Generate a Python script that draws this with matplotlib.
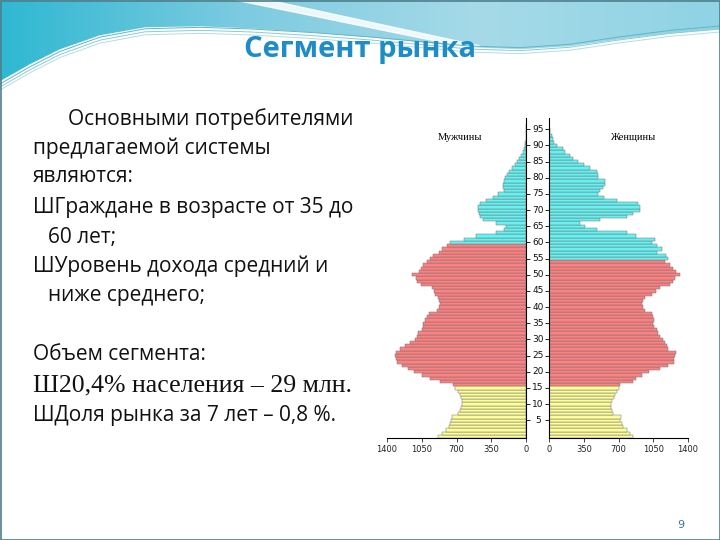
import numpy as np
import matplotlib
matplotlib.use("Agg")
import matplotlib.pyplot as plt
from matplotlib.transforms import blended_transform_factory
from matplotlib.colors import LinearSegmentedColormap

# population by single year of age, thousands (0 .. 96)
ages = list(range(0, 97))
male = [886, 846, 806, 775, 765, 755, 745, 685, 665, 655,
        645, 645, 655, 665, 685, 715, 735, 866, 967, 1047,
        1128, 1188, 1249, 1299, 1309, 1319, 1309, 1269, 1218, 1168,
        1118, 1100, 1088, 1050, 1040, 1037, 1020, 1000, 980, 900,
        880, 866, 875, 890, 916, 930, 950, 1060, 1098, 1110,
        1148, 1080, 1060, 1040, 1000, 967, 937, 880, 846, 800,
        770, 620, 500, 300, 220, 200, 300, 430, 460, 470,
        483, 480, 465, 400, 330, 280, 220, 235, 235, 225,
        210, 190, 175, 140, 110, 90, 70, 55, 35, 20,
        12, 8, 5, 3, 2, 1, 0]
female = [846, 816, 785, 750, 735, 715, 725, 640, 634, 624,
          624, 634, 655, 665, 685, 700, 715, 846, 880, 940,
          1007, 1120, 1200, 1259, 1259, 1270, 1279, 1200, 1188, 1168,
          1148, 1120, 1098, 1088, 1060, 1047, 1060, 1050, 1037, 967,
          950, 937, 950, 967, 1037, 1080, 1118, 1218, 1249, 1270,
          1319, 1280, 1249, 1218, 1168, 1198, 1180, 1088, 1138, 1088,
          1037, 1067, 876, 785, 483, 362, 312, 513, 785, 846,
          916, 916, 896, 685, 550, 493, 513, 544, 564, 564,
          493, 493, 480, 413, 350, 292, 240, 211, 160, 141,
          80, 50, 40, 30, 15, 10, 5]

# age groups: below working age, working age, above working age
young_max = 15
male_work_max = 59
female_work_max = 54

x_ticks = [0, 350, 700, 1050, 1400]
age_ticks = list(range(5, 100, 5))

text_lines = [
    (68, 119, "Основными потребителями", "sans"),
    (33, 148, "предлагаемой системы", "sans"),
    (33, 177, "являются:", "sans"),
    (33, 207, "ШГраждане в возрасте от 35 до", "sans"),
    (48, 237, "60 лет;", "sans"),
    (33, 266, "ШУровень дохода средний и", "sans"),
    (48, 296, "ниже среднего;", "sans"),
    (33, 355, "Объем сегмента:", "sans"),
    (33, 385, "Ш20,4% населения – 29 млн.", "serif"),
    (33, 415, "ШДоля рынка за 7 лет – 0,8 %.", "sans"),
]

YELLOW = "#FFFF99"
RED = "#FF8080"
CYAN = "#66F2F2"
EDGE = "#707070"


def colors_for(maxwork):
    out = []
    for a in ages:
        if a <= young_max:
            out.append(YELLOW)
        elif a <= maxwork:
            out.append(RED)
        else:
            out.append(CYAN)
    return out


W, H = 720, 540
fig = plt.figure(figsize=(7.2, 5.4), dpi=100)

# background / decoration layer in pixel coords
bg = fig.add_axes([0, 0, 1, 1])
bg.set_xlim(0, W)
bg.set_ylim(H, 0)
bg.axis("off")

grad = LinearSegmentedColormap.from_list("hdr", ["#2FB8D2", "#7CCBE0", "#A6DAE8", "#8FD3E4"])
bg.imshow(np.linspace(0, 1, 256)[None, :], cmap=grad, aspect="auto",
          extent=[0, W, 90, 0], zorder=0)
wx = np.array([0, 30, 60, 100, 145, 200, 250, 310, 370, 430, 470, 520, 570, 620, 670, 720])
wy = np.array([82, 65, 50, 36, 28, 27, 29, 33, 38, 44, 48, 50, 47, 40, 34, 30])
bg.fill_between(wx, wy, 95, color="white", zorder=1)
# light streak from top
bg.fill([235, 268, 480, 470], [0, 0, 46, 48], color="white", alpha=0.85, zorder=1)
for off, c in [(2, "#5FB6C8"), (5, "#8CCAD8"), (8, "#B5DCE6")]:
    bg.plot(wx, wy + off - (wx / 720) * 6, color=c, lw=0.7, zorder=2)
bg.add_patch(plt.Rectangle((0.5, 0.5), W - 1, H - 1, fill=False, ec="#4F7E8C", lw=1.2, zorder=3))

bg.text(360, 50, "Сегмент рынка", ha="center", va="center", fontsize=21,
        fontweight="bold", color="#1E8CC6", family=["Open Sans", "DejaVu Sans"], zorder=4)

for x, y, s, kind in text_lines:
    fam = ["Liberation Serif", "DejaVu Serif"] if kind == "serif" else ["Open Sans", "DejaVu Sans"]
    size = 18.5 if kind == "serif" else 15
    bg.text(x, y, s, ha="left", va="center", fontsize=size, color="#111111", family=fam)

bg.text(681, 525, "9", ha="center", va="center", fontsize=8, color="#3A78A8")

# pyramid
bottom = 1 - 438 / H
height = (438 - 118) / H
ax_m = fig.add_axes([387 / W, bottom, 139 / W, height])
ax_f = fig.add_axes([549 / W, bottom, 139 / W, height])

ax_m.barh(ages, male, height=1.0, color=colors_for(male_work_max), edgecolor=EDGE, linewidth=0.35)
ax_f.barh(ages, female, height=1.0, color=colors_for(female_work_max), edgecolor=EDGE, linewidth=0.35)

for ax in (ax_m, ax_f):
    ax.set_ylim(-0.5, 98.5)
    ax.set_xticks(x_ticks)
    ax.set_xticklabels([str(v) for v in x_ticks])
    ax.tick_params(axis="x", labelsize=6, colors="#222222", length=3, width=0.6, pad=2)
    ax.spines["top"].set_visible(False)
    ax.set_yticks(age_ticks)
    ax.set_yticklabels([])
    ax.tick_params(axis="y", length=3, width=0.6)
    for sp in ax.spines.values():
        sp.set_linewidth(0.8)

ax_m.set_xlim(1400, 0)
ax_m.spines["left"].set_visible(False)
ax_m.yaxis.tick_right()
ax_f.set_xlim(0, 1400)
ax_f.spines["right"].set_visible(False)

tr = blended_transform_factory(fig.transFigure, ax_f.transData)
for a in age_ticks:
    fig.text(538 / W, a, str(a), transform=tr, ha="center", va="center", fontsize=6.5, color="#111111")

fig.text(460 / W, 1 - 137 / H, "Мужчины", ha="center", va="center", fontsize=7.5,
         family=["Liberation Serif", "DejaVu Serif"])
fig.text(633 / W, 1 - 137 / H, "Женщины", ha="center", va="center", fontsize=7.5,
         family=["Liberation Serif", "DejaVu Serif"])

fig.savefig("out.png", dpi=100)
